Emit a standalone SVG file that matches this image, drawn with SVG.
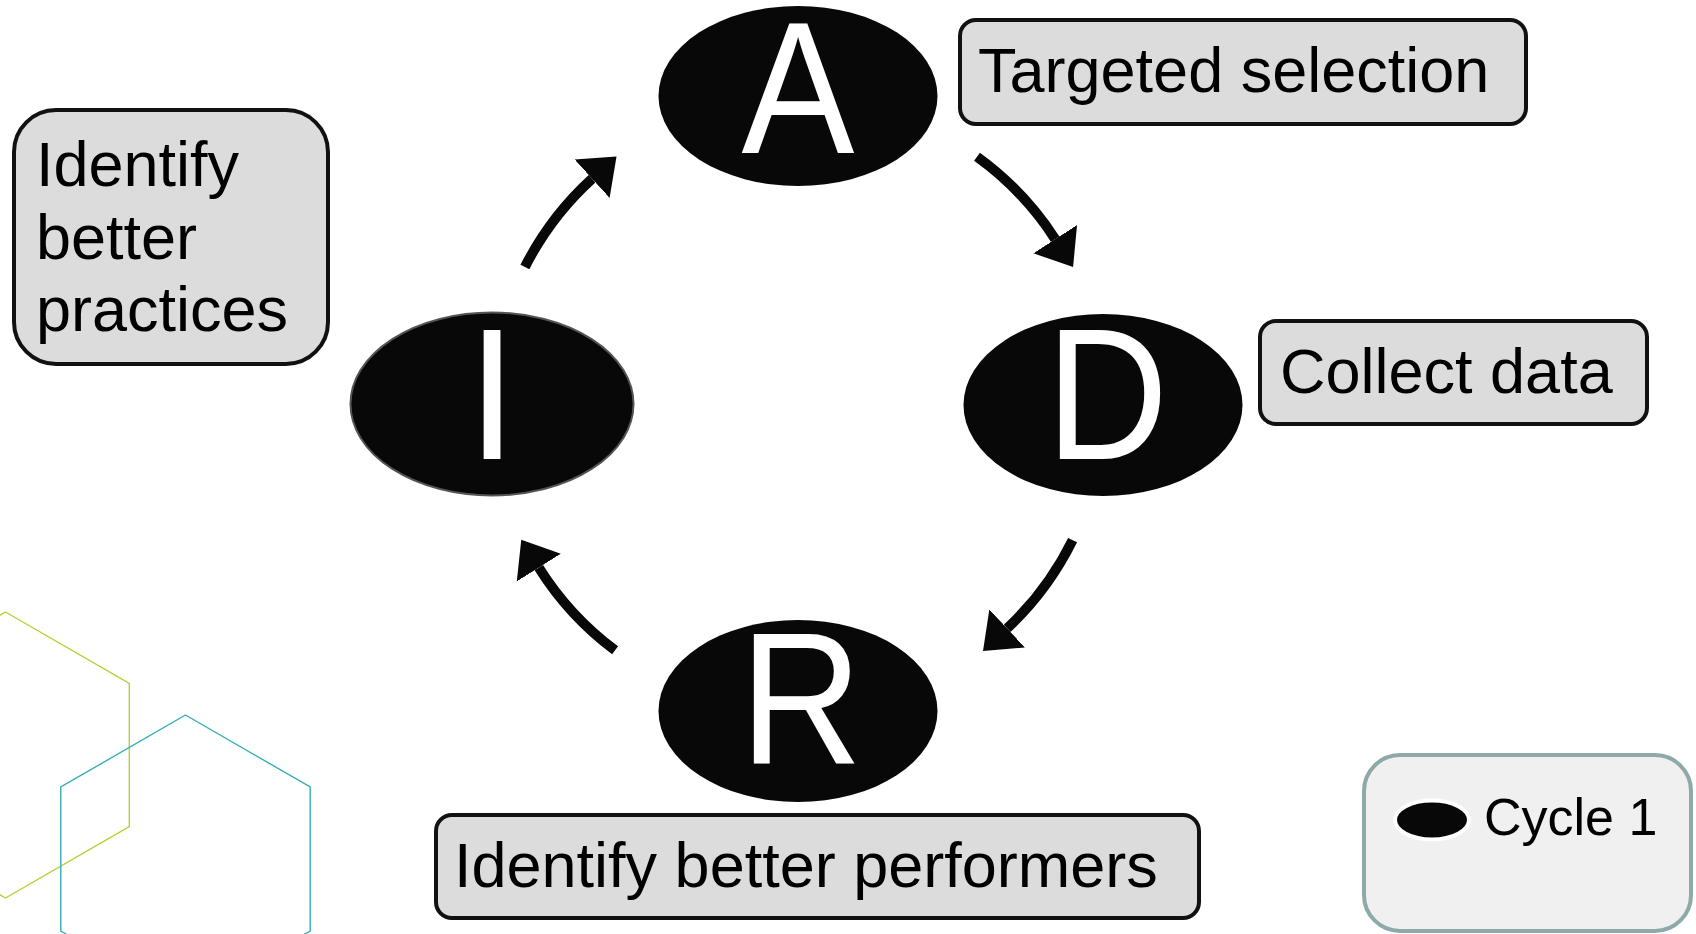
<svg xmlns="http://www.w3.org/2000/svg" width="1696" height="934" viewBox="0 0 1696 934">
<style>
.node{fill:#080808}
.letter{font-family:"Liberation Sans",Arial,sans-serif;font-size:188px;fill:#ffffff;text-anchor:middle}
.box{fill:#dcdcdc;stroke:#111111;stroke-width:4}
.lbl{font-family:"Liberation Sans",Arial,sans-serif;font-size:63px;fill:#000000}
.arrow{fill:none;stroke:#080808;stroke-width:10;marker-end:url(#head)}
</style>
<defs>
<marker id="head" markerUnits="userSpaceOnUse" viewBox="0 -30 40 60" markerWidth="40" markerHeight="60" refX="0" refY="0" orient="auto">
<path d="M0,-26 L33,0 L0,26 Z" fill="#080808"/>
</marker>
</defs>
<rect width="1696" height="934" fill="#ffffff"/>
<g id="decor">
<polygon points="5.5,612 129.3,683.5 129.3,826.5 5.5,898 -118.3,826.5 -118.3,683.5" fill="none" stroke="#b4d235" stroke-width="1.4"/>
<polygon points="185.5,715 310.2,787 310.2,931 185.5,1003 60.8,931 60.8,787" fill="none" stroke="#36aeb6" stroke-width="1.4"/>
</g>
<g id="connectors">
<path class="arrow" d="M524.9,267 A306,306 0 0 1 592.1,178.7"/>
<path class="arrow" d="M977,156.8 A306,306 0 0 1 1055.2,239.2"/>
<path class="arrow" d="M1072.6,540.1 A306,306 0 0 1 1007.1,628.4"/>
<path class="arrow" d="M615.1,650.3 A306,306 0 0 1 538.8,567.6"/>
</g>
<g id="node-A">
<ellipse class="node" cx="798" cy="96" rx="139.5" ry="90"/>
<text class="letter" transform="translate(798,152.5) scale(0.9,1)" x="0" y="0">A</text>
</g>
<g id="node-D">
<ellipse class="node" cx="1103" cy="405" rx="139.5" ry="91"/>
<text class="letter" transform="translate(1107,458.6) scale(0.9,1)" x="0" y="0">D</text>
</g>
<g id="node-R">
<ellipse class="node" cx="798" cy="711" rx="139.5" ry="91"/>
<text class="letter" transform="translate(801,763.6) scale(0.9,1)" x="0" y="0">R</text>
</g>
<g id="node-I">
<ellipse class="node" cx="492" cy="404" rx="141.5" ry="91.5" stroke="#555555" stroke-width="2"/>
<text class="letter" transform="translate(492,458.6) scale(0.95,1)" x="0" y="0">I</text>
</g>
<g id="label-targeted">
<rect class="box" x="960" y="20" width="566" height="104" rx="16"/>
<text class="lbl" x="978" y="92">Targeted selection</text>
</g>
<g id="label-collect">
<rect class="box" x="1260" y="321" width="387" height="103" rx="16"/>
<text class="lbl" x="1280" y="392.5">Collect data</text>
</g>
<g id="label-performers">
<rect class="box" x="436" y="815" width="763" height="103" rx="16"/>
<text class="lbl" x="454" y="886.5">Identify better performers</text>
</g>
<g id="label-practices">
<rect class="box" x="14" y="110" width="314" height="254" rx="42"/>
<text class="lbl" x="36" y="186">Identify</text>
<text class="lbl" x="36" y="259">better</text>
<text class="lbl" x="36" y="331">practices</text>
</g>
<g id="legend">
<rect x="1364" y="755" width="327" height="176" rx="36" fill="#f0f0f0" stroke="#8fa8a8" stroke-width="4"/>
<ellipse cx="1432" cy="820" rx="37" ry="19.5" fill="#080808" stroke="#ffffff" stroke-width="4"/>
<text x="1484" y="835" font-family="'Liberation Sans',Arial,sans-serif" font-size="52" fill="#000000">Cycle 1</text>
</g>
</svg>
